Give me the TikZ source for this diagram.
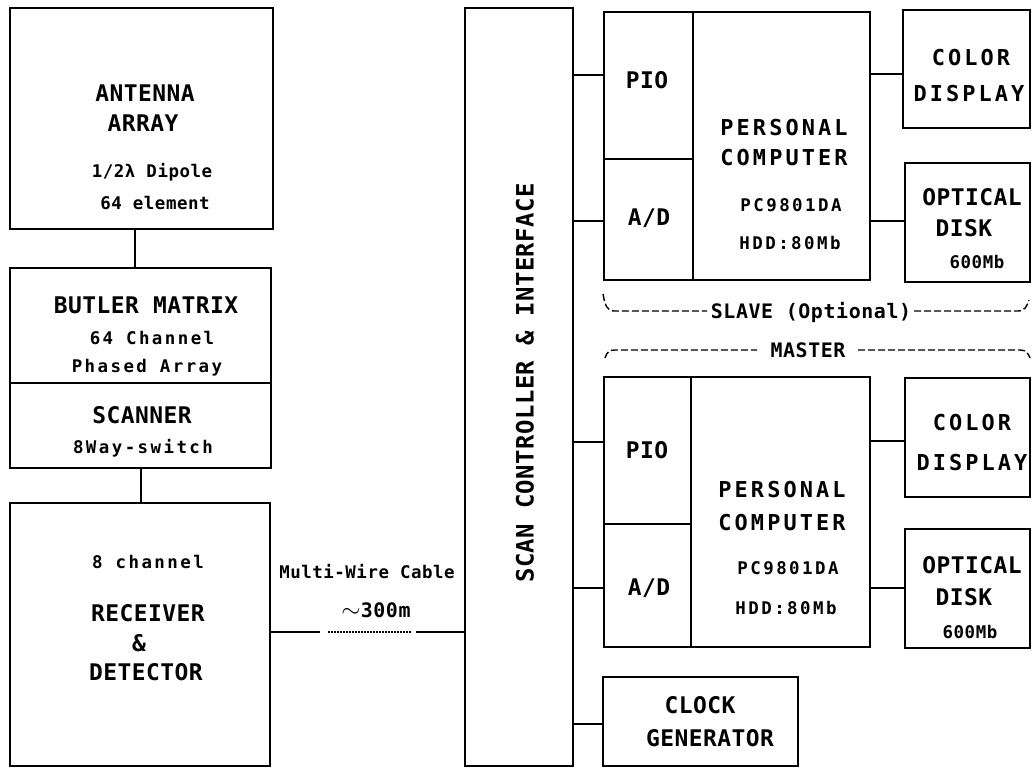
\documentclass[tikz,border=0pt]{standalone}
\usepackage{fontspec}
\newfontfamily\pfA[LetterSpace=2]{DejaVu Sans Mono}
\newfontfamily\pfB[LetterSpace=14]{DejaVu Sans Mono}
\newfontfamily\pfC[LetterSpace=14]{DejaVu Sans Mono}
\newfontfamily\pfD[LetterSpace=3]{DejaVu Sans Mono}
\begin{document}
\begin{tikzpicture}[x=1bp,y=-1bp,
  box/.style={draw, line width=2.4bp, inner sep=0pt},
  lab/.style={inner sep=0pt, anchor=center},
  big/.style={lab, font=\pfA\bfseries\fontsize{23}{25}\selectfont},
  wide/.style={lab, font=\pfB\bfseries\fontsize{22}{24}\selectfont},
  small/.style={lab, font=\pfC\bfseries\fontsize{17.5}{19}\selectfont},
  tiny/.style={lab, font=\pfD\bfseries\fontsize{17.5}{19}\selectfont},
  mid/.style={lab, font=\pfD\bfseries\fontsize{20}{22}\selectfont},
  wire/.style={line width=2bp},
  brk/.style={line width=1.4bp, dash pattern=on 7bp off 3bp}]
\useasboundingbox (0,0) rectangle (1032,769);

% ---- left column
\node[box, minimum width=263bp, minimum height=221bp] (ant) at (141.5,118.5) {};
\node[big] (t1) at (145,93) {ANTENNA};
\node[big] (t2) at (143,123) {ARRAY};
\node[tiny] (t3) at (152,172) {1/2λ Dipole};
\node[tiny] (t4) at (155,203) {64 element};

\node[box, minimum width=261bp, minimum height=115bp] (butler) at (140.5,325.5) {};
\node[big] (t5) at (146,305) {BUTLER MATRIX};
\node[small] (t6) at (152,338) {64 Channel};
\node[small] (t7) at (147,368) {Phased Array};

\node[box, minimum width=261bp, minimum height=85bp] (scanner) at (140.5,425.5) {};
\node[big] (t8) at (142,415) {SCANNER};
\node[small] (t9) at (143,448) {8Way-switch};

\node[box, minimum width=260bp, minimum height=263bp] (recv) at (140,634.5) {};
\node[small] (t10) at (148,562) {8 channel};
\node[big] (t11) at (148,613) {RECEIVER};
\node[big] (t12) at (139,643) {\&};
\node[big] (t13) at (146,672) {DETECTOR};

\draw[wire] ([xshift=-6.5bp]ant.south) -- ([xshift=-6.5bp]ant.south |- butler.north);
\draw[wire] (scanner.south) -- (scanner.south |- recv.north);

% ---- cable
\node[box, minimum width=108bp, minimum height=758bp] (scan) at (519,387) {};
\node[lab, rotate=90, font=\pfA\bfseries\fontsize{24}{26}\selectfont] (t14) at (525,383) {SCAN CONTROLLER \& INTERFACE};

\coordinate (c1) at (320,632);
\coordinate (c2) at (328,632);
\coordinate (c3) at (412,632);
\coordinate (c4) at (416,632);
\draw[wire] (recv.east |- c1) -- (c1);
\draw[line width=1.6bp, dash pattern=on 1.6bp off 1.4bp] (c2) -- (c3);
\draw[wire] (c4) -- (scan.west |- c4);
\node[tiny] (t15) at (367,572) {Multi-Wire Cable};
\node[mid] (t16) at (376,610) {{\fontsize{28}{28}\selectfont$\sim$}300m};

% ---- upper computer
\node[box, minimum width=89bp, minimum height=147bp] (pio1) at (648.5,85.5) {};
\node[box, minimum width=89bp, minimum height=121bp] (ad1) at (648.5,219.5) {};
\node[box, minimum width=177bp, minimum height=268bp] (pc1) at (781.5,146) {};
\node[big] (t17) at (647,80) {PIO};
\node[big] (t18) at (649,218) {A/D};
\node[wide] (t19) at (784,128) {PERSONAL};
\node[wide] (t20) at (784,158) {COMPUTER};
\node[small] (t21) at (791,205) {PC9801DA};
\node[small] (t22) at (790,243) {HDD:80Mb};

\node[box, minimum width=127bp, minimum height=118bp] (cd1) at (966.5,69) {};
\node[wide] (t23) at (971,58) {COLOR};
\node[wide] (t24) at (969,94) {DISPLAY};
\node[box, minimum width=125bp, minimum height=119bp] (od1) at (967.5,222.5) {};
\node[big] (t25) at (972,197) {OPTICAL};
\node[big] (t26) at (964,228) {DISK};
\node[tiny] (t27) at (977,262) {600Mb};

\draw[wire] (scan.east |- 0,75) -- (pio1.west |- 0,75);
\draw[wire] (scan.east |- 0,221) -- (ad1.west |- 0,221);
\draw[wire] (pc1.east |- 0,74) -- (cd1.west |- 0,74);
\draw[wire] (pc1.east |- 0,221) -- (od1.west |- 0,221);

% ---- brackets
\draw[brk] (603,294) .. controls (605,305) and (607,311) .. (614,311) -- (707,311);
\node[mid] (t28) at (811,312) {SLAVE (Optional)};
\draw[brk] (914,311) -- (1018,311) .. controls (1025,311) and (1027,306) .. (1029,300);

\draw[brk] (605,358) .. controls (607,352) and (609,350) .. (615,350) -- (757,350);
\node[mid] (t29) at (808,350) {MASTER};
\draw[brk] (858,350) -- (1020,350) .. controls (1026,350) and (1028,353) .. (1030,358);

% ---- lower computer
\node[box, minimum width=87bp, minimum height=147bp] (pio2) at (647.5,450.5) {};
\node[box, minimum width=87bp, minimum height=123bp] (ad2) at (647.5,585.5) {};
\node[box, minimum width=179bp, minimum height=270bp] (pc2) at (780.5,512) {};
\node[big] (t30) at (647,450) {PIO};
\node[big] (t31) at (649,588) {A/D};
\node[wide] (t32) at (782,490) {PERSONAL};
\node[wide] (t33) at (782,523) {COMPUTER};
\node[small] (t34) at (788,568) {PC9801DA};
\node[small] (t35) at (786,608) {HDD:80Mb};

\node[box, minimum width=125bp, minimum height=119bp] (cd2) at (967.5,437.5) {};
\node[wide] (t36) at (972,423) {COLOR};
\node[wide] (t37) at (972,463) {DISPLAY};
\node[box, minimum width=125bp, minimum height=119bp] (od2) at (967.5,588.5) {};
\node[big] (t38) at (972,565) {OPTICAL};
\node[big] (t39) at (964,597) {DISK};
\node[tiny] (t40) at (970,632) {600Mb};

\node[box, minimum width=195bp, minimum height=89bp] (clk) at (700.5,721.5) {};
\node[big] (t41) at (700,705) {CLOCK};
\node[big] (t42) at (710,738) {GENERATOR};

\draw[wire] (scan.east |- 0,442) -- (pio2.west |- 0,442);
\draw[wire] (scan.east |- 0,588) -- (ad2.west |- 0,588);
\draw[wire] (scan.east |- 0,724) -- (clk.west |- 0,724);
\draw[wire] (pc2.east |- 0,441) -- (cd2.west |- 0,441);
\draw[wire] (pc2.east |- 0,588) -- (od2.west |- 0,588);
\end{tikzpicture}
\end{document}
